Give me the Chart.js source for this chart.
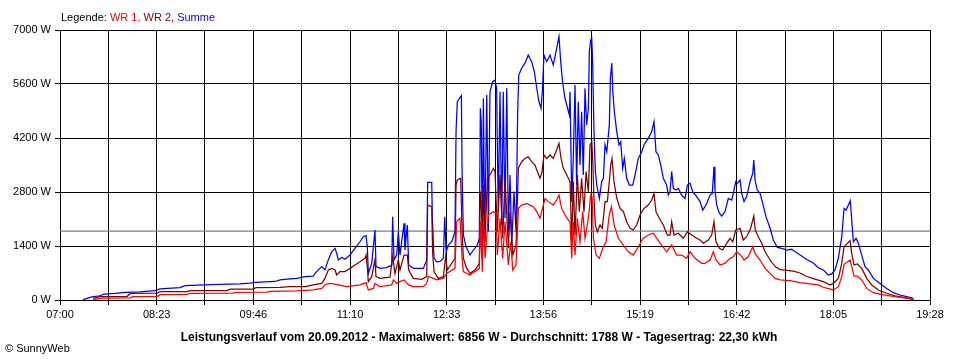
<!DOCTYPE html>
<html>
<head>
<meta charset="utf-8">
<script src="https://cdn.jsdelivr.net/npm/chart.js@4.4.1/dist/chart.umd.min.js"></script>
<style>
	body { margin: 0; background: #fff; }
</style>
</head>
<body>
<canvas id="chart" width="960" height="360"></canvas>
<script>
// time axis in minutes after midnight
const dayStart = 420;
const dayEnd = 1168;
const tickLabels = ['07:00', '08:23', '09:46', '11:10', '12:33', '13:56', '15:19', '16:42', '18:05', '19:28'];
const yMax = 7000;
const yStep = 1400;
const average = 1788;

const legendParts = [['Legende: ', '#000000'], ['WR 1, ', '#ff0000'], ['WR 2, ', '#800000'], ['Summe', '#0000ff']];
const footerText = 'Leistungsverlauf vom 20.09.2012 - Maximalwert: 6856 W - Durchschnitt: 1788 W - Tagesertrag: 22,30 kWh';
const copyrightText = '\u00a9 SunnyWeb';

// WR 1 (red)
const wr1Times = [448.4, 457, 480.2, 482.8, 503.4, 506, 529.2, 531.8, 568.7, 571.3, 598, 600.6, 623.5, 637.8, 645, 647.8, 650.7, 655, 659.3, 666.5,
	677.9, 683.1, 685.1, 689.4, 690.8, 695.1, 705.2, 706.6, 709.5, 712.3, 715.8, 719.8, 723.8, 732.4, 735.3, 736.7, 741, 743.9, 749.6, 752.5,
	759.6, 761, 763.9, 765.7, 766.8, 772.5, 780.5, 781.4, 783.1, 784, 785.5, 788.3, 792.6, 794.9, 796, 798.3, 800.6, 802.6, 805.5, 807.5,
	809.3, 812.1, 814.1, 816.9, 821.3, 824.1, 827, 829.9, 832.7, 834.2, 837, 839.9, 844.1, 847, 849, 851.3, 854.2, 857, 858.5, 860,
	861.3, 862.8, 864.8, 867.1, 869.4, 871.4, 874.3, 876.3, 877.5, 878.6, 880.9, 883.7, 886.6, 889.5, 892.3, 894.1, 896.4, 900, 904.4, 908.7,
	912.9, 917.2, 921.5, 925.8, 930.1, 933, 937.3, 941.6, 945.9, 950.2, 954.5, 958.8, 961.7, 966, 971.7, 974.6, 978.9, 981.7, 984, 987.5,
	991.7, 996.1, 998.9, 1001.8, 1005.3, 1008.1, 1011.8, 1015.6, 1017.6, 1021.9, 1026.2, 1030.5, 1034.8, 1039.1, 1047.7, 1056.3, 1064.9, 1072.1, 1076.3, 1084.9,
	1089.2, 1092.1, 1094.1, 1096.4, 1099.3, 1100.7, 1102.7, 1105.5, 1109.3, 1113.6, 1119.3, 1125, 1133.6, 1142.2, 1153.2];
const wr1Watts = [10, 50, 55, 85, 90, 140, 145, 175, 180, 200, 205, 225, 235, 260, 300, 390, 430, 415, 390, 345,
	390, 450, 260, 300, 430, 345, 390, 520, 430, 475, 520, 390, 345, 345, 430, 605, 560, 520, 560, 690,
	820, 2030, 2120, 1080, 735, 648, 820, 2030, 735, 2120, 1080, 2205, 2290, 2250, 1165, 2120, 1080, 2030, 907, 1510,
	778, 907, 2375, 2460, 2505, 2460, 2420, 2290, 2120, 2290, 2635, 2550, 2460, 2593, 2720, 2375, 2205, 2074, 2030, 1080,
	2030, 1165, 2120, 1510, 2290, 1600, 2120, 2720, 2680, 1600, 1165, 1080, 1340, 1510, 2205, 2420, 1945, 1600, 1425, 1250,
	1165, 1380, 1600, 1685, 1730, 1600, 1425, 1250, 1425, 1165, 1165, 1080, 1250, 1080, 950, 950, 1037, 1250, 1037, 907,
	950, 1080, 1120, 1250, 1165, 1037, 1120, 1380, 1210, 1037, 820, 690, 560, 520, 500, 450, 415, 390, 330, 260,
	345, 605, 925, 970, 1037, 865, 620, 620, 520, 300, 190, 155, 105, 70, 20];

// WR 2 (dark red)
const wr2Times = [448.4, 454.4, 477.6, 480.2, 503.4, 506, 529.2, 531.8, 563.6, 566.2, 585.9, 588.5, 609.2, 617.8, 630.7, 637.8, 645, 647.8, 650.7, 653.6,
	656.5, 657.9, 660.7, 665, 669.3, 673.6, 677.9, 682.2, 683.1, 684.2, 685.1, 688, 690.8, 691.7, 695.1, 703.7, 706, 708, 710.9, 712.3,
	715.8, 718.6, 719.8, 723.8, 731, 735.3, 736.1, 739.6, 740.4, 741.6, 745.3, 749.6, 751.6, 753, 759.6, 760.5, 761.6, 764.5, 765.7, 766.8,
	769.7, 772.5, 776.8, 780.5, 781.4, 782.6, 783.1, 784, 785.5, 787.4, 789.7, 792.6, 794, 796, 798.3, 800.6, 802.6, 805.5, 806.9, 809.3,
	812.1, 814.1, 816.9, 819.8, 822.6, 825.5, 828.4, 830.4, 832.7, 834.2, 836.1, 838.5, 841.3, 844.1, 847, 849, 850.8, 852.7, 855.7, 858.5,
	860, 861.3, 862.8, 864.8, 866.5, 868.5, 870.5, 872.3, 874.3, 875.7, 877.2, 878, 879.1, 880.3, 882, 884.3, 886.3, 888.6, 890.6, 892.3,
	893.5, 894.6, 896.3, 898.7, 901.5, 904.4, 907.2, 910.1, 912.9, 915.8, 918.7, 922.1, 925.8, 928.7, 930.7, 932.4, 935.3, 938.7, 942.2, 944.5,
	945.9, 947.9, 951.6, 955.9, 959.4, 963.1, 967.4, 970.3, 973.1, 977.4, 980.3, 982.3, 984, 986.9, 989.8, 993.2, 996.1, 998.4, 1001, 1004.7,
	1007.5, 1010.4, 1013.8, 1016.5, 1017.8, 1020.4, 1023.3, 1026.2, 1030.5, 1034.8, 1039.1, 1044.8, 1050.5, 1056.3, 1062, 1069.1, 1076.3, 1082, 1084.9, 1089.2,
	1092.1, 1094.1, 1096.4, 1099.3, 1100.7, 1102.7, 1105.5, 1109.3, 1113.6, 1117.9, 1123.6, 1130.8, 1137.9, 1146.5, 1153.2];
const wr2Watts = [40, 85, 90, 170, 175, 215, 215, 240, 245, 280, 285, 320, 330, 345, 345, 390, 430, 560, 778, 820,
	778, 648, 735, 735, 820, 907, 990, 1080, 1165, 865, 475, 605, 1040, 605, 560, 590, 1120, 690, 1040, 778,
	1165, 1165, 778, 560, 535, 605, 2460, 2420, 1210, 735, 560, 605, 1120, 778, 1080, 2980, 3110, 3155, 1770, 1080,
	820, 690, 778, 950, 2810, 2290, 1080, 2980, 1510, 3155, 3240, 3415, 3330, 1770, 3240, 1600, 3155, 1340, 2290, 1165,
	1425, 3415, 3585, 3670, 3715, 3585, 3500, 3330, 3155, 3285, 3760, 3670, 3760, 3670, 3890, 4060, 3670, 3415, 3240, 3070,
	1510, 3070, 1685, 3240, 2290, 3155, 2290, 3330, 2810, 4020, 4100, 3670, 2635, 1945, 1770, 1945, 1860, 2550, 2550, 3070,
	3500, 3670, 3070, 2635, 2375, 2290, 2030, 1860, 1815, 1945, 2205, 2375, 2460, 2593, 2765, 2290, 2120, 1945, 1685, 1685,
	2030, 1685, 1730, 1600, 1770, 1685, 1600, 1556, 1470, 1556, 1685, 2030, 1510, 1340, 1296, 1470, 1600, 1510, 1815, 1860,
	1556, 1640, 1860, 2180, 1815, 1640, 1470, 1250, 1037, 865, 790, 770, 750, 700, 610, 540, 475, 390, 430, 560,
	950, 1380, 1450, 1540, 1210, 907, 935, 820, 560, 390, 260, 175, 105, 60, 20];

// Summe (blue)
const sumTimes = [439.8, 447.5, 454.4, 457.8, 467.3, 475.9, 488.8, 501.7, 506, 523.2, 527.5, 549, 574.8, 583.4, 587.7, 604.9, 609.2, 617.8, 623.5, 630.7,
	637.8, 639.3, 642.1, 645, 647.8, 650.7, 653.6, 656.5, 657.9, 659.3, 662.2, 665, 669.3, 673.6, 677.9, 680.8, 683.1, 684.2, 685.1, 688,
	690.8, 691.7, 695.1, 700.9, 705.2, 706, 707.2, 709.5, 710.9, 712.3, 715.8, 716.6, 718.6, 719.8, 723.8, 732.4, 735.3, 736.1, 739.6, 740.1,
	741.6, 743.9, 746.7, 749.6, 750.8, 752, 753.9, 756.8, 759.6, 760.5, 761.6, 763.4, 765.1, 765.7, 766.8, 769.1, 772.5, 775.4, 778.8, 780.5,
	781.4, 782.2, 783.1, 784, 785.2, 786.9, 788.3, 789.7, 792, 794, 795.4, 796.8, 798.3, 799.8, 801.1, 802.6, 804.1, 805.5, 806.9, 808.4,
	810.3, 812.1, 813.5, 814.4, 816.9, 819.8, 822.6, 825.5, 827.8, 829.9, 831.8, 833.6, 834.7, 836.1, 838.5, 841.3, 844.1, 847, 849, 850.5,
	852.2, 854.2, 855.7, 857.9, 858.5, 860, 861.3, 862.8, 864.2, 865.6, 867.1, 868.5, 869.9, 871.4, 872.8, 874.3, 875.1, 876.3, 877.2, 878,
	879.1, 880.3, 881.5, 883.7, 885.7, 887.2, 888.6, 890.1, 892.3, 893.2, 894.4, 895.3, 896.6, 898.7, 900.6, 902.1, 903.8, 905.2, 907.2, 909.5,
	912.4, 914.4, 917.2, 920.2, 922.1, 925.8, 928.7, 930.7, 932.4, 934.4, 936.5, 938.7, 941.6, 943, 944.5, 945.9, 947.3, 949.6, 951.6, 954.5,
	957.4, 959.4, 961.7, 964, 967.4, 970.3, 972.6, 974.6, 976.6, 978.9, 980.8, 982.3, 983.1, 984.6, 986.9, 988.9, 991.7, 994.6, 997.5, 998.9,
	1001, 1002.3, 1004.7, 1006.1, 1008.1, 1010.4, 1013.3, 1015.6, 1016.5, 1017.6, 1019.5, 1021.9, 1024.2, 1027, 1030.5, 1033.3, 1036.7, 1040.5, 1044.8, 1049.1,
	1053.4, 1057.7, 1062, 1067.7, 1072, 1076.3, 1080.6, 1083.5, 1086.3, 1089.2, 1092.1, 1094.1, 1095.8, 1097.8, 1099.5, 1100.7, 1102.1, 1104.4, 1106.4, 1109.3,
	1112.1, 1115, 1119.3, 1125, 1130.8, 1136.5, 1142.2, 1148, 1153.2, 1153.7];
const sumWatts = [10, 80, 110, 150, 170, 200, 210, 240, 290, 320, 370, 400, 420, 440, 460, 480, 520, 550, 560, 605,
	620, 690, 780, 865, 780, 1040, 1250, 1340, 1210, 1040, 1105, 1055, 1165, 1340, 1510, 1640, 1670, 1380, 690, 950,
	1815, 865, 820, 840, 907, 2160, 1040, 1165, 1770, 1165, 1990, 1300, 1945, 907, 820, 820, 1040, 3050, 3050, 2160,
	1080, 990, 1000, 1080, 2160, 1250, 1425, 1510, 1770, 4360, 5140, 5230, 5300, 3330, 1685, 1380, 1165, 1296, 1425, 1600,
	4970, 4620, 1250, 5230, 1600, 5315, 1770, 5400, 5660, 5700, 5490, 2290, 5400, 1945, 5400, 2120, 5490, 1770, 3240, 1425,
	2810, 1770, 4880, 5830, 6010, 6140, 6350, 6180, 5920, 5490, 5140, 4970, 5400, 6350, 6180, 6350, 6090, 6525, 6830, 6180,
	5620, 5230, 5055, 4800, 5400, 2550, 3670, 5575, 2980, 5140, 3500, 4880, 3240, 5490, 4540, 4970, 6440, 6740, 6785, 6090,
	4360, 3330, 2980, 2635, 3070, 3155, 4020, 3845, 4540, 5750, 6140, 5400, 4880, 4360, 4020, 4100, 3415, 3670, 3155, 2980,
	2980, 3240, 3670, 3845, 4020, 4190, 4360, 4620, 3845, 3760, 3500, 3155, 2980, 2720, 2810, 3330, 2895, 2850, 2895, 2720,
	2635, 2980, 3025, 2810, 2680, 2550, 2333, 2420, 2550, 2720, 2765, 3455, 2850, 2460, 2250, 2180, 2290, 2635, 2593, 2765,
	3070, 3025, 3110, 2765, 2550, 2680, 3070, 3285, 3630, 3110, 2850, 2765, 2505, 2160, 1860, 1556, 1365, 1340, 1296, 1315,
	1225, 1140, 1050, 960, 835, 778, 648, 675, 778, 1080, 1640, 2375, 2333, 2460, 2575, 2074, 1510, 1600, 1470, 1165,
	865, 778, 560, 430, 300, 190, 130, 85, 45, 0];

function toPoints(times, watts) {
	let points = [];
	for (let i = 0; i < times.length; i++) {
		points.push({x: times[i], y: watts[i]});
	}
	return points;
}

const fontFamily = '"Liberation Sans", Arial, sans-serif';
Chart.defaults.font.family = fontFamily;
Chart.defaults.font.size = 11;
Chart.defaults.color = '#000';

// legend, footer and copyright are drawn as plain canvas text
const textPlugin = {
	id: 'texts',
	afterDraw(chart) {
		let ctx = chart.ctx;
		ctx.save();
		ctx.textBaseline = 'alphabetic';
		ctx.font = '11px ' + fontFamily;
		let x = 61;
		for (let part of legendParts) {
			ctx.fillStyle = part[1];
			ctx.fillText(part[0], x, 21);
			x += ctx.measureText(part[0]).width;
		}
		ctx.fillStyle = '#000';
		ctx.fillText(copyrightText, 5, 352);
		ctx.font = 'bold 12px ' + fontFamily;
		ctx.textAlign = 'center';
		ctx.fillText(footerText, 479, 341);
		ctx.restore();
	}
};

let ctx = document.getElementById('chart').getContext('2d');
let chart = new Chart(ctx, {
	type: 'line',
	data: {
		datasets: [{
			label: 'WR 1',
			borderColor: '#ff0000',
			data: toPoints(wr1Times, wr1Watts)
		}, {
			label: 'WR 2',
			borderColor: '#800000',
			data: toPoints(wr2Times, wr2Watts)
		}, {
			label: 'Summe',
			borderColor: '#0000ff',
			data: toPoints(sumTimes, sumWatts)
		}, {
			label: 'Durchschnitt',
			borderColor: '#808080',
			data: [{x: dayStart, y: average}, {x: dayEnd, y: average}]
		}]
	},
	options: {
		responsive: false,
		animation: false,
		devicePixelRatio: 1,
		layout: {padding: {top: 30, right: 30, left: 0, bottom: 0}},
		elements: {
			line: {borderWidth: 1.25, tension: 0},
			point: {radius: 0}
		},
		plugins: {
			legend: {display: false},
			tooltip: {enabled: false}
		},
		scales: {
			x: {
				type: 'linear',
				min: dayStart,
				max: dayEnd,
				afterBuildTicks: (scale) => {
					let count = (tickLabels.length - 1) * 2;
					let ticks = [];
					for (let i = 0; i <= count; i++) {
						ticks.push({value: dayStart + (dayEnd - dayStart) * i / count});
					}
					scale.ticks = ticks;
				},
				afterFit: (scale) => {
					scale.height = 60;
					scale.paddingLeft = 0;
					scale.paddingRight = 0;
				},
				grid: {color: '#000', tickLength: 5},
				border: {color: '#000'},
				ticks: {
					autoSkip: false,
					maxRotation: 0,
					padding: 3,
					callback: (value, index) => index % 2 === 0 ? tickLabels[index / 2] : ''
				}
			},
			y: {
				min: 0,
				max: yMax,
				afterFit: (scale) => {
					scale.width = 60;
					scale.paddingTop = 0;
					scale.paddingBottom = 0;
				},
				grid: {color: '#000', tickLength: 5},
				border: {color: '#000'},
				ticks: {
					stepSize: yStep,
					padding: 4,
					callback: (value) => value + ' W'
				}
			}
		}
	},
	plugins: [textPlugin]
});
</script>
</body>
</html>
